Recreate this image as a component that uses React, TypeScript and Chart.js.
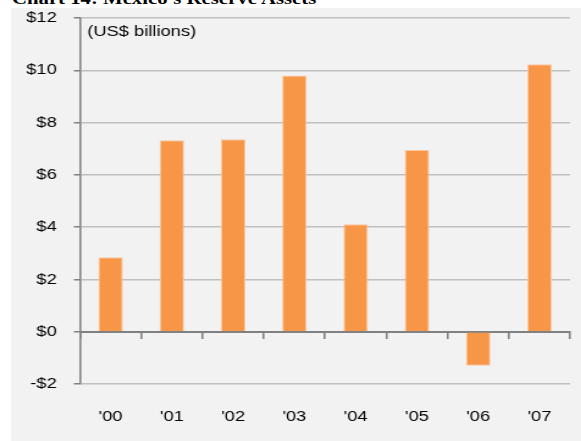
import React, { useEffect, useRef } from 'react';
import { Chart, registerables } from 'chart.js';

Chart.register(...registerables);

const TITLE = "Chart 14: Mexico's Reserve Assets";
const UNIT_NOTE = '(US$ billions)';
const years = ["'00", "'01", "'02", "'03", "'04", "'05", "'06", "'07"];
const reserveChange = [2.85, 7.32, 7.36, 9.8, 4.11, 6.95, -1.3, 10.23];
const yMin = -2;
const yMax = 12;
const yStep = 2;

const BOX_W = 570;
const BOX_H = 433;
const CANVAS_W = 467;
const SX = BOX_W / CANVAS_W;

const fontFamily = '"Liberation Sans", Arial, sans-serif';

function formatDollar(v: number): string {
  return v < 0 ? '-$' + Math.abs(v) : '$' + v;
}

export default function App() {
  const ref = useRef<HTMLCanvasElement>(null);

  useEffect(() => {
    const prevMargin = document.body.style.margin;
    document.body.style.margin = '0';
    const canvas = ref.current!;

    const notePlugin = {
      id: 'unitNote',
      afterDraw(chart: any) {
        const { ctx, chartArea } = chart;
        ctx.save();
        ctx.font = '15px ' + fontFamily;
        ctx.fillStyle = '#000';
        ctx.textBaseline = 'middle';
        ctx.textAlign = 'left';
        ctx.fillText(UNIT_NOTE, chartArea.left + 6, chartArea.top + 13.5);
        ctx.restore();
      },
    };

    const chart = new Chart(canvas, {
      type: 'bar',
      data: {
        labels: years,
        datasets: [
          {
            data: reserveChange,
            backgroundColor: '#F79646',
            borderColor: '#FBC9A2',
            borderWidth: 1,
            barPercentage: 0.4,
            categoryPercentage: 1,
          },
        ],
      },
      options: {
        animation: false,
        responsive: false,
        maintainAspectRatio: false,
        layout: { padding: { top: 10, right: 4, left: 0, bottom: 0 } },
        plugins: {
          legend: { display: false },
          tooltip: { enabled: false },
          title: { display: false },
        },
        scales: {
          x: {
            position: 'bottom',
            grid: { display: false, drawTicks: false },
            border: { display: false },
            ticks: { font: { family: fontFamily, size: 15 }, color: '#000', padding: 24 },
            afterFit: (s: any) => {
              s.height = 57;
            },
          },
          x0: {
            type: 'category',
            axis: 'x',
            position: { y: 0 },
            labels: years,
            offset: true,
            z: 1,
            grid: {
              drawOnChartArea: false,
              tickLength: 6,
              color: '#808080',
              lineWidth: 1.6,
              offset: true,
            },
            border: { color: '#808080', width: 2 },
            ticks: { display: false },
            afterFit: (s: any) => {
              s.height = 0;
            },
          },
          y: {
            min: yMin,
            max: yMax,
            ticks: {
              stepSize: yStep,
              callback: (v: any) => formatDollar(Number(v)),
              font: { family: fontFamily, size: 15 },
              color: '#000',
              padding: 14,
            },
            grid: {
              color: '#c0c0c0',
              lineWidth: 1.5,
              tickLength: 5,
              tickColor: '#808080',
            },
            border: { color: '#808080', width: 1.6 },
            afterFit: (s: any) => {
              s.width = 56.5;
              s.paddingTop = 0;
              s.paddingBottom = 0;
            },
          },
        },
      } as any,
      plugins: [notePlugin],
    });

    return () => {
      chart.destroy();
      document.body.style.margin = prevMargin;
    };
  }, []);

  return (
    <div
      style={{
        position: 'fixed',
        left: 0,
        top: 0,
        width: 581,
        height: 441,
        overflow: 'hidden',
        background: '#fff',
      }}
    >
      <div
        style={{
          position: 'absolute',
          left: 12,
          top: -10,
          font: 'bold 17px "Liberation Serif", "Times New Roman", serif',
          lineHeight: '17px',
          whiteSpace: 'nowrap',
          transform: `scaleX(${SX})`,
          transformOrigin: 'left top',
          color: '#000',
        }}
      >
        {TITLE}
      </div>
      <div
        style={{
          position: 'absolute',
          left: 11,
          top: 8,
          width: BOX_W,
          height: BOX_H,
          background: '#F2F2F2',
        }}
      >
        <canvas
          ref={ref}
          width={CANVAS_W}
          height={BOX_H}
          style={{ display: 'block', width: BOX_W + 'px', height: BOX_H + 'px' }}
        />
      </div>
    </div>
  );
}
